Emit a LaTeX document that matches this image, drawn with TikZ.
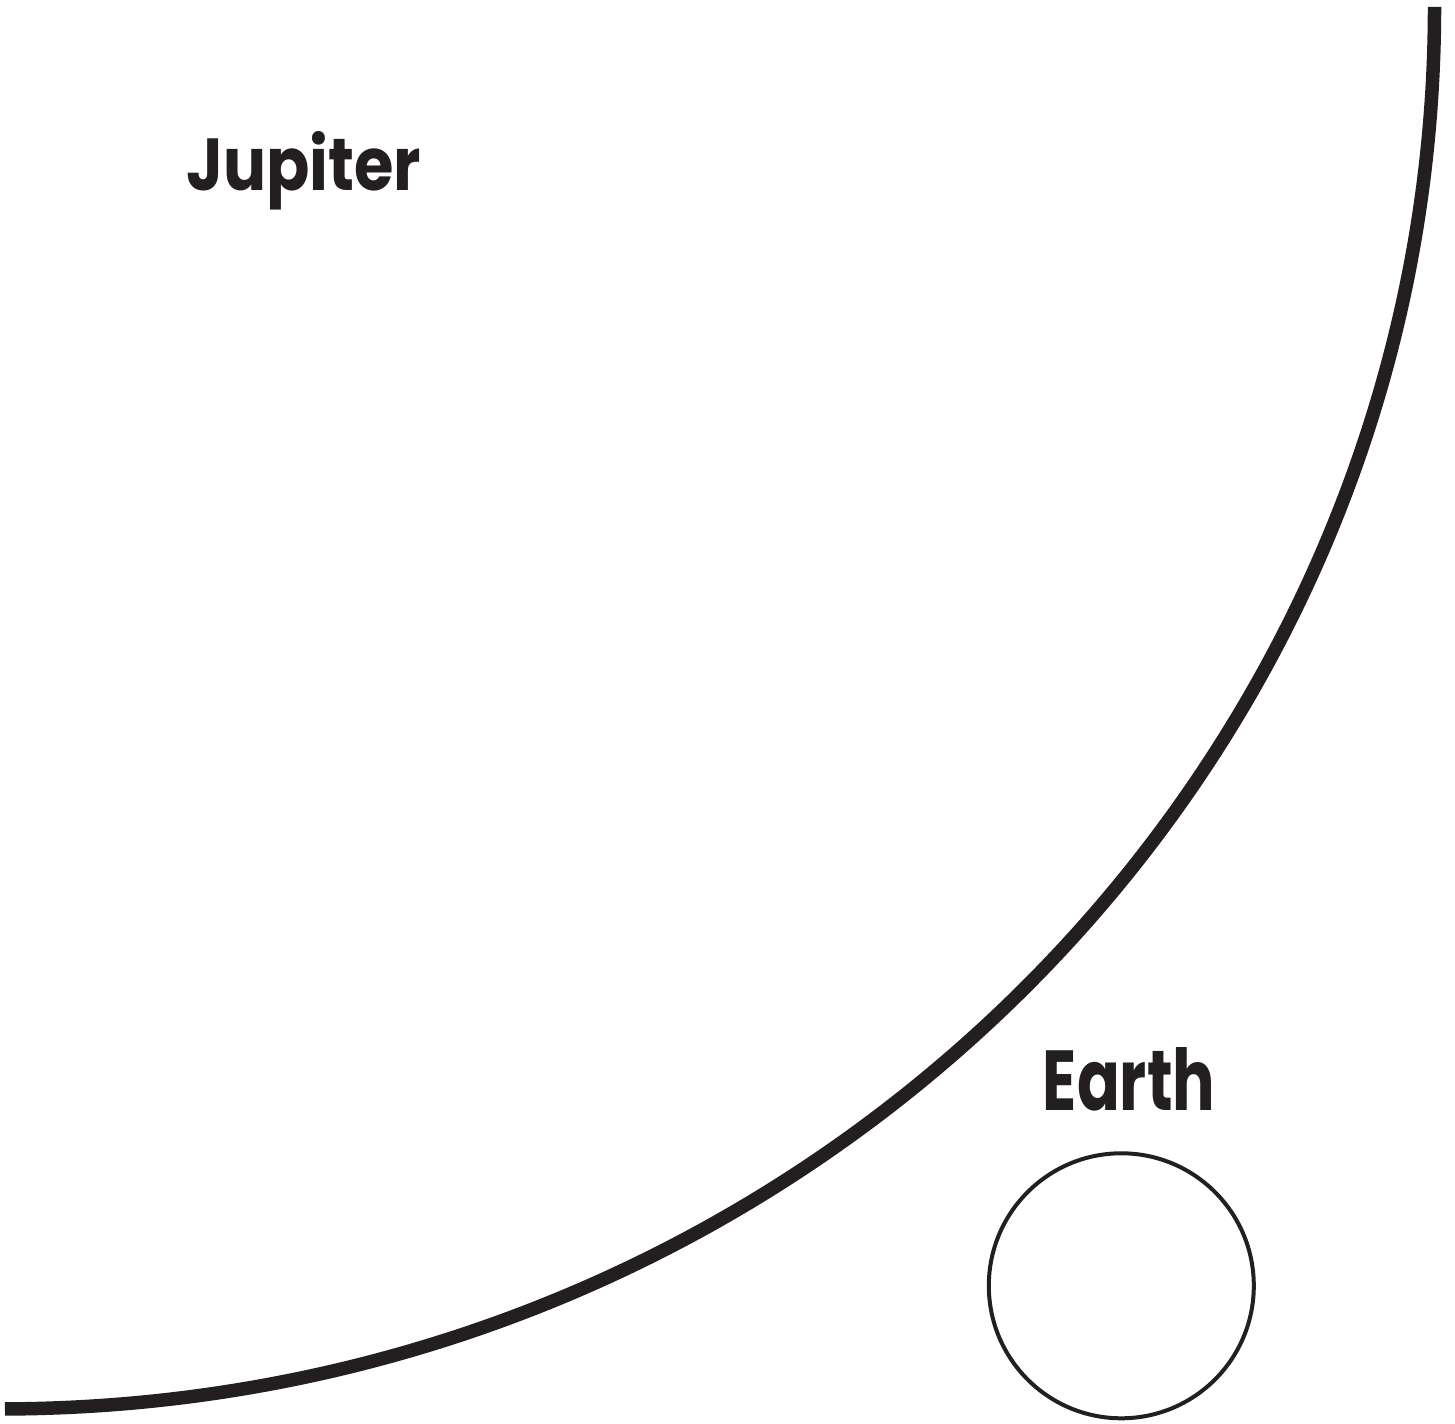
\documentclass[tikz,border=0pt]{standalone}
\usepackage{fontspec}
\setmainfont{Poppins}
\definecolor{ink}{HTML}{231F20}
\begin{document}
\begin{tikzpicture}[x=1pt,y=1pt,
  label text/.style={inner sep=0pt, anchor=base west, text=ink, font=\bfseries\fontsize{80}{90}\selectfont}]
\useasboundingbox (0,0) rectangle (1455,1423);
% Jupiter limb (quarter ellipse)
\coordinate (jtop) at (1434.5,1416);
\draw[ink, line width=13.5pt, line cap=butt] (jtop) arc[start angle=0, end angle=-89.8, x radius=1434.5pt, y radius=1402pt];
% Earth
\node[draw=ink, line width=4pt, circle, minimum size=265pt, inner sep=0pt] (earth) at (1121.3,137.2) {};
\node[label text] (jupiterlabel) at (186,1232.3) {\resizebox{235pt}{59pt}{Jupiter}};
\node[label text] (earthlabel) at (1042.7,312.3) {\resizebox{172.3pt}{63pt}{Earth}};
\end{tikzpicture}
\end{document}
